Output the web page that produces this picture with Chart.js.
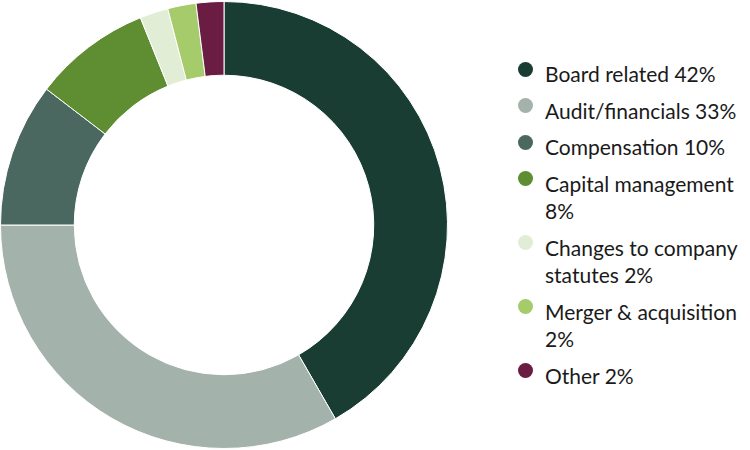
<!DOCTYPE html>
<html>
<head>
<meta charset="utf-8">
<script src="https://cdn.jsdelivr.net/npm/chart.js@4/dist/chart.umd.min.js"></script>
<style>
  html, body { margin: 0; padding: 0; background: #ffffff; }
  #wrap { position: relative; width: 750px; height: 450px; overflow: hidden; }
  #chartBox { position: absolute; left: 0; top: 0; width: 448px; height: 450px; }
  #legend { position: absolute; left: 518px; top: 60px; width: 232px; font-family: Lato, "Open Sans", sans-serif; font-size: 21px; color: #1a1a1a; }
  .item { display: flex; align-items: flex-start; margin-bottom: 9px; }
  .dot { width: 15px; height: 15px; border-radius: 50%; flex: 0 0 15px; margin-top: 1.5px; margin-right: 12px; }
  .txt { line-height: 27.5px; width: 205px; }
</style>
</head>
<body>
<div id="wrap">
  <div id="chartBox"><canvas id="c"></canvas></div>
  <div id="legend"></div>
</div>
<script>
const categories = ["Board related", "Audit/financials", "Compensation", "Capital management", "Changes to company statutes", "Merger & acquisition", "Other"];
const shareLabels = ["42%", "33%", "10%", "8%", "2%", "2%", "2%"];
const shareValues = [41.7, 33.3, 10.4, 8.5, 2.05, 2.05, 2.0];
const sliceColors = ["#1a3d33", "#a4b2ac", "#4a6860", "#5f8d31", "#e2edd6", "#a6cb6b", "#6a1c42"];

new Chart(document.getElementById('c'), {
  type: 'doughnut',
  data: {
    labels: categories,
    datasets: [{
      data: shareValues,
      backgroundColor: sliceColors,
      borderColor: '#ffffff',
      borderWidth: 1
    }]
  },
  options: {
    responsive: true,
    maintainAspectRatio: false,
    animation: false,
    cutout: '67%',
    layout: { padding: 0 },
    plugins: { legend: { display: false }, tooltip: { enabled: false } }
  }
});

const lg = document.getElementById('legend');
categories.forEach((name, i) => {
  const it = document.createElement('div');
  it.className = 'item';
  const d = document.createElement('div');
  d.className = 'dot';
  d.style.background = sliceColors[i];
  const t = document.createElement('div');
  t.className = 'txt';
  t.textContent = name + ' ' + shareLabels[i];
  it.appendChild(d); it.appendChild(t);
  lg.appendChild(it);
});
</script>
</body>
</html>
